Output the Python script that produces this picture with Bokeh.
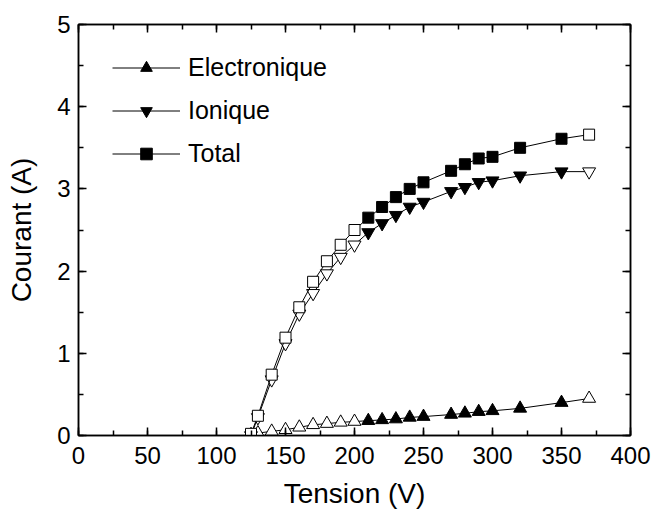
from bokeh.plotting import figure
from bokeh.models import ColumnDataSource, LinearAxis, Range1d, Legend, LegendItem, FixedTicker
from bokeh.embed import file_html
from bokeh.resources import INLINE

tension = [125, 130, 140, 150, 160, 170, 180, 190, 200, 210, 220, 230, 240, 250,
           270, 280, 290, 300, 320, 350, 370]
electronique = [0.01, 0.03, 0.05, 0.07, 0.10, 0.13, 0.145, 0.16, 0.17, 0.18, 0.19, 0.20,
                0.22, 0.23, 0.255, 0.27, 0.29, 0.30, 0.33, 0.40, 0.45]
ionique = [0.0, 0.22, 0.68, 1.12, 1.48, 1.73, 1.97, 2.17, 2.32, 2.47, 2.58, 2.68,
           2.78, 2.84, 2.97, 3.02, 3.08, 3.10, 3.16, 3.21, 3.21]
total = [0.02, 0.24, 0.74, 1.19, 1.56, 1.87, 2.12, 2.32, 2.50, 2.65, 2.78, 2.90,
         3.00, 3.08, 3.22, 3.30, 3.37, 3.39, 3.50, 3.61, 3.66]
x_ticks = [0, 50, 100, 150, 200, 250, 300, 350, 400]
y_ticks = [0, 1, 2, 3, 4, 5]

FONT = "Liberation Sans"

fills = ["white" if (t <= 200 or t >= 370) else "black" for t in tension]
src = ColumnDataSource(dict(x=tension, e=electronique, i=ionique, t=total, fill=fills))

p = figure(width=652, height=512, output_backend="svg", toolbar_location=None,
           x_range=Range1d(0, 400), y_range=Range1d(0, 5),
           min_border_left=78, min_border_right=22, min_border_top=24, min_border_bottom=77)
p.xgrid.visible = False
p.ygrid.visible = False
p.outline_line_color = "black"
p.outline_line_width = 1.5
p.background_fill_color = "white"

for ax in p.axis:
    ax.major_label_text_font = FONT
    ax.major_label_text_font_size = "24px"
    ax.major_label_text_color = "black"
    ax.axis_label_text_font = FONT
    ax.axis_label_text_font_size = "28px"
    ax.axis_label_text_font_style = "normal"
    ax.axis_label_text_color = "black"
    ax.axis_line_width = 1.5
    ax.major_tick_in = 8
    ax.major_tick_out = 0
    ax.minor_tick_in = 5
    ax.minor_tick_out = 0
    ax.major_tick_line_width = 1.5
    ax.minor_tick_line_width = 1.5

p.xaxis.ticker = FixedTicker(ticks=x_ticks, minor_ticks=list(range(0, 401, 25)))
p.yaxis.ticker = FixedTicker(ticks=y_ticks, minor_ticks=[v / 2 for v in range(0, 11)])
p.xaxis.axis_label = "Tension (V)"
p.yaxis.axis_label = "Courant (A)"
p.xaxis.major_label_standoff = 11
p.yaxis.major_label_standoff = 8
p.xaxis.axis_label_standoff = 11
p.yaxis.axis_label_standoff = 17

top = LinearAxis(ticker=FixedTicker(ticks=x_ticks, minor_ticks=list(range(0, 401, 25))),
                 major_label_text_font_size="0px", major_tick_in=8, major_tick_out=0,
                 minor_tick_in=5, minor_tick_out=0, axis_line_width=1.5,
                 major_tick_line_width=1.5, minor_tick_line_width=1.5)
right = LinearAxis(ticker=FixedTicker(ticks=y_ticks, minor_ticks=[v / 2 for v in range(0, 11)]),
                   major_label_text_font_size="0px", major_tick_in=8, major_tick_out=0,
                   minor_tick_in=5, minor_tick_out=0, axis_line_width=1.5,
                   major_tick_line_width=1.5, minor_tick_line_width=1.5)
p.add_layout(top, "above")
p.add_layout(right, "right")

le = p.line("x", "e", source=src, line_color="black", line_width=1)
se = p.scatter("x", "e", source=src, marker="triangle", size=13, fill_color="fill",
               line_color="black", line_width=1)
li = p.line("x", "i", source=src, line_color="black", line_width=1)
si = p.scatter("x", "i", source=src, marker="inverted_triangle", size=13, fill_color="fill",
               line_color="black", line_width=1)
lt = p.line("x", "t", source=src, line_color="black", line_width=1)
st = p.scatter("x", "t", source=src, marker="square", size=11, fill_color="fill",
               line_color="black", line_width=1)

legend = Legend(items=[
    LegendItem(label="Electronique", renderers=[le, se], index=10),
    LegendItem(label="Ionique", renderers=[li, si], index=10),
    LegendItem(label="Total", renderers=[lt, st], index=10),
], location=(34, 267))
legend.margin = 0
legend.padding = 0
legend.border_line_color = None
legend.background_fill_alpha = 0
legend.glyph_width = 68
legend.glyph_height = 29
legend.label_height = 29
legend.spacing = 14
legend.label_standoff = 8
legend.label_text_font = FONT
legend.label_text_font_size = "25px"
legend.label_text_color = "black"
p.add_layout(legend)

open("out.html", "w").write(file_html(p, INLINE))
